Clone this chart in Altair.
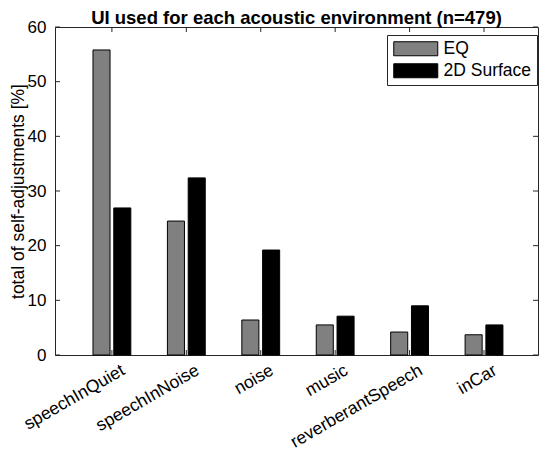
import pandas as pd
import altair as alt

envs = ["speechInQuiet", "speechInNoise", "noise", "music", "reverberantSpeech", "inCar"]
ui_order = ["EQ", "2D Surface"]
eq_pct = [55.8, 24.5, 6.4, 5.5, 4.2, 3.7]
surface_pct = [26.9, 32.4, 19.2, 7.1, 9.0, 5.5]
y_ticks = [0, 10, 20, 30, 40, 50, 60]

W, H = 483, 328
FONT = "Liberation Sans"
AXIS_COLOR = "#262626"

df = pd.DataFrame(
    [{"env": e, "ui": "EQ", "pct": v} for e, v in zip(envs, eq_pct)]
    + [{"env": e, "ui": "2D Surface", "pct": v} for e, v in zip(envs, surface_pct)]
)
yt = pd.DataFrame({"v": y_ticks})
xt = pd.DataFrame({"env": envs})

x_scale = alt.Scale(domain=envs, paddingInner=0, paddingOuter=0.245, align=0.54)
y_scale = alt.Scale(domain=[0, 60], nice=False)

bars = (
    alt.Chart(df)
    .mark_bar(stroke="black", strokeWidth=1)
    .encode(
        x=alt.X("env:N", sort=envs, scale=x_scale, title=None,
                axis=alt.Axis(labelAngle=-30, labelAlign="right", labelBaseline="top",
                              labelPadding=6, labelOffset=7, ticks=False, domain=False,
                              labelFontSize=17.5, labelColor="black", labelFont=FONT)),
        xOffset=alt.XOffset("ui:N", sort=ui_order,
                            scale=alt.Scale(paddingInner=0.18, paddingOuter=0.88)),
        y=alt.Y("pct:Q", scale=y_scale, title="total of self-adjustments [%]",
                axis=alt.Axis(values=y_ticks, ticks=False, domain=False, grid=False,
                              labelPadding=9, labelFontSize=17, labelColor="black",
                              labelFont=FONT, titleFont=FONT, titleFontSize=17.5,
                              titleFontWeight="normal", titleColor="black",
                              titlePadding=0)),
        color=alt.Color("ui:N", sort=ui_order,
                        scale=alt.Scale(domain=ui_order, range=["#808080", "#000000"]),
                        legend=alt.Legend(title=None, orient="none", legendX=332, legendY=8,
                                          symbolType="M-1,-1H5.29V1H-1Z", symbolSize=196,
                                          symbolStrokeColor="black", symbolStrokeWidth=1,
                                          symbolOpacity=1, labelOffset=34,
                                          labelFontSize=17.5, labelFont=FONT, labelColor="black",
                                          rowPadding=3, padding=5, fillColor="white",
                                          strokeColor=AXIS_COLOR)),
    )
)

tick_len = 5
y_left = alt.Chart(yt).mark_rule(color=AXIS_COLOR).encode(
    y=alt.Y("v:Q", scale=y_scale), x=alt.value(0), x2=alt.value(tick_len))
y_right = alt.Chart(yt).mark_rule(color=AXIS_COLOR).encode(
    y=alt.Y("v:Q", scale=y_scale), x=alt.value(W - tick_len), x2=alt.value(W))
x_bottom = alt.Chart(xt).mark_rule(color=AXIS_COLOR).encode(
    x=alt.X("env:N", sort=envs, scale=x_scale), y=alt.value(H), y2=alt.value(H - tick_len))
x_top = alt.Chart(xt).mark_rule(color=AXIS_COLOR).encode(
    x=alt.X("env:N", sort=envs, scale=x_scale), y=alt.value(0), y2=alt.value(tick_len))

chart = (
    alt.layer(x_bottom, x_top, y_left, y_right, bars)
    .properties(
        width=W, height=H,
        title=alt.TitleParams("UI used for each acoustic environment (n=479)",
                              font=FONT, fontSize=18.5, fontWeight="bold", color="black",
                              anchor="middle", offset=5, dy=14),
        autosize=alt.AutoSizeParams(type="none"),
        padding={"left": 47, "top": 19, "right": 4, "bottom": 98},
    )
    .configure_view(stroke=AXIS_COLOR, strokeWidth=1)
)

chart.save("out.html", embed_options={"renderer": "svg", "actions": False})
